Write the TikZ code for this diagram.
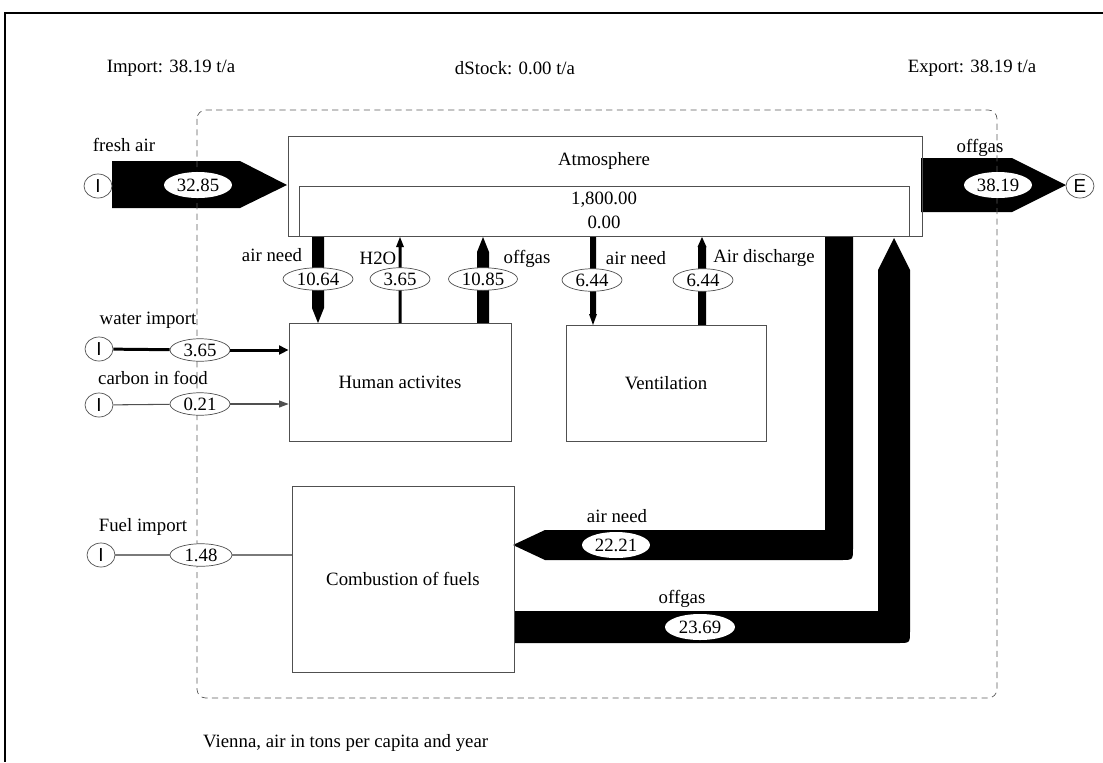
\documentclass[tikz,border=0pt]{standalone}
\usepackage{fontspec}
\setmainfont{Liberation Serif}
\newfontfamily\portfont{Liberation Sans}
\usetikzlibrary{shapes.geometric,arrows.meta}

\definecolor{myblack}{HTML}{000000}
\definecolor{mygray}{HTML}{505050}
\definecolor{mylightgray}{HTML}{7A7A7A}
\definecolor{mydash}{HTML}{5A5A5A}

\begin{document}
\begin{tikzpicture}[x=0.02cm, y=-0.02cm, font=\fontsize{10.7}{12}\selectfont,
  proc/.style={draw=mygray, inner sep=0pt},
  val/.style={ellipse, draw=mygray, fill=white, inner sep=0pt, minimum width=1.2cm, minimum height=0.45cm},
  wval/.style={ellipse, fill=white, inner sep=0pt, minimum width=1.36cm, minimum height=0.52cm},
  port/.style={ellipse, draw=mygray, fill=white, inner sep=0pt, minimum width=0.56cm, minimum height=0.48cm, font=\fontsize{10.7}{12}\portfont}]

\useasboundingbox (0,0) rectangle (1103,762);

% FRAME
\draw[myblack, line width=0.7pt] (1103,13) -- (5,13) -- (5,762);

% TOTALS
\node (imp) at (171,68) {Import: 38.19 t/a};
\node (dst) at (515,68) {dStock: 0.00 t/a};
\node (exp) at (972,68) {Export: 38.19 t/a};

% FRESH AIR / OFFGAS (EXPORT)
\fill[myblack] (112,161) -- (240,161) -- (287,185) -- (240,208) -- (112,208) -- cycle;
\fill[myblack] (921,158) -- (1012,158) -- (1066,185) -- (1012,212) -- (921,212) -- cycle;

% VERTICAL FLOWS (x / half width / half head / head length / from / to)
\foreach \x/\hw/\hh/\hl/\ya/\yb in {318/6/6/15/237/323, 400/1.5/4/10/323/237, 483/6/6/15/323/237, 593/3/4/11/237/325, 702/4/4.5/10/325/237} {
  \pgfmathsetmacro\s{sign(\yb-\ya)}
  \fill[myblack] ({\x-\hw},\ya) -- ({\x+\hw},\ya) -- ({\x+\hw},{\yb-\s*\hl}) -- ({\x+\hh},{\yb-\s*\hl}) -- (\x,\yb) -- ({\x-\hh},{\yb-\s*\hl}) -- ({\x-\hw},{\yb-\s*\hl}) -- cycle;
}

% RETURN FLOWS
\fill[myblack] (825,237) -- (853,237) -- (853,548) .. controls (853,560) and (853,560) .. (841,560) -- (545,560) -- (513,545) -- (545,530) -- (825,530) -- cycle;
\fill[myblack] (514,611) -- (878,611) -- (878,270) -- (894,238) -- (910,270) -- (910,631) .. controls (910,643) and (910,643) .. (898,643) -- (514,643) -- cycle;

% SYSTEM BOUNDARY
\draw[mydash, dash pattern=on 3.5pt off 2.5pt, rounded corners=5pt] (197,110) rectangle (997,698);

% PROCESSES
\node[proc, minimum width=12.68cm, minimum height=2cm] (atm) at (605,186) {};
\node (atmlbl) at (604,161) {Atmosphere};
\node[proc, minimum width=12.2cm, minimum height=1cm] (stock) at (604,211) {};
\node (stockval) at (604,200) {1,800.00};
\node (dstockval) at (604,222) {0.00};
\node[proc, minimum width=4.44cm, minimum height=2.36cm] (hum) at (400,382) {Human activites};
\node[proc, minimum width=4cm, minimum height=2.32cm] (vent) at (666,383) {Ventilation};
\node[proc, minimum width=4.44cm, minimum height=3.72cm] (comb) at (403,579) {Combustion of fuels};

% IMPORT / EXPORT PORTS
\node[port] (ifresh) at (98,186) {I};
\node[port] (iwat) at (99,349) {I};
\node[port] (icarb) at (99,405) {I};
\node[port] (ifuel) at (101,555) {I};
\node[port] (eoff) at (1080,186) {E};

% VALUES
\node[wval] (v3285) at (198,185) {32.85};
\node[wval] (v3819) at (998,185) {38.19};
\node[val, minimum width=1.4cm] (v1064) at (318,279) {10.64};
\node[val] (v365a) at (400,279) {3.65};
\node[val, minimum width=1.38cm] (v1085) at (483,279) {10.85};
\node[val] (v644a) at (592,280) {6.44};
\node[val] (v644b) at (703,280) {6.44};
\node[wval] (v2221) at (616,545) {22.21};
\node[wval, minimum width=1.4cm] (v2369) at (700,627) {23.69};
\node[val] (v365b) at (200,350) {3.65};
\node[val] (v021) at (200,404) {0.21};
\node[val, minimum width=1.24cm] (v148) at (201,555) {1.48};

% LABELS
\node (lfresh) at (124,145) {fresh air};
\node (loffex) at (980,148) {offgas};
\node (lan1) at (272,255) {air need};
\node (lh2o) at (378,258) {H2O};
\node (log1) at (527,259) {offgas};
\node (lan2) at (636,258) {air need};
\node (ldis) at (764,258) {Air discharge};
\node (lwat) at (148,320) {water import};
\node (lcarb) at (153,378) {carbon in food};
\node (lfuel) at (143,527) {Fuel import};
\node (lan3) at (617,516) {air need};
\node (log2) at (682,599) {offgas};
\node[anchor=west] (lcap) at (197,743) {Vienna, air in tons per capita and year};

% SMALL FLOWS
\draw[myblack, line width=1.7pt] (iwat) -- (v365b);
\draw[myblack, line width=1.7pt, -{Triangle[length=5.5pt, width=5pt]}] (v365b) -- (v365b -| hum.west);
\draw[mygray, line width=0.6pt] (icarb) -- (v021);
\draw[mygray, line width=0.6pt, -{Triangle[length=5.5pt, width=4pt]}] (v021) -- (v021 -| hum.west);
\draw[mylightgray, line width=0.6pt] (ifuel) -- (v148);
\draw[mylightgray, line width=0.6pt] (v148) -- (v148 -| comb.west);

\end{tikzpicture}
\end{document}
